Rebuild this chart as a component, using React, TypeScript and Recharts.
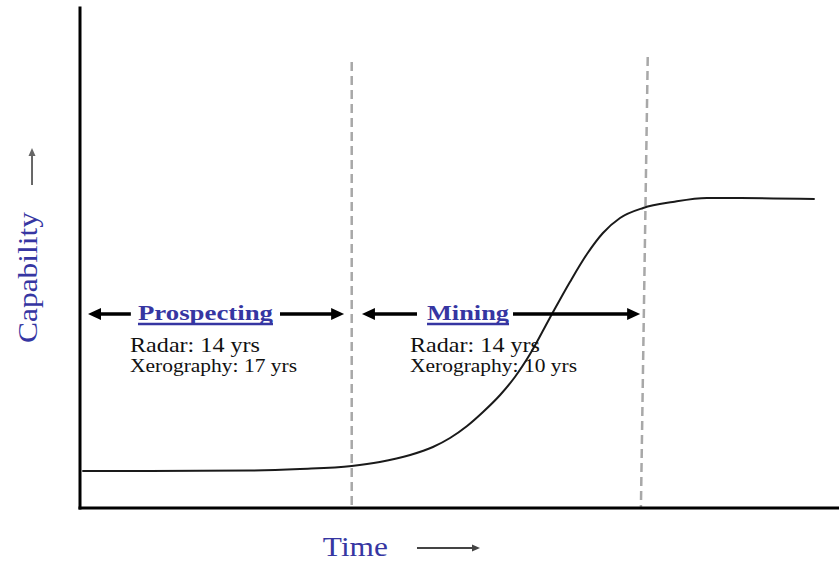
import React from "react";
import { LineChart, Line, XAxis, YAxis, ReferenceLine, ReferenceDot } from "recharts";

// S-curve: time (0-100) vs capability (0-100)
const times = [0.3, 9.2, 22.4, 29.0, 35.8, 39.5, 43.5, 46.5, 48.75, 51.0, 53.1, 55.35, 57.3, 59.3, 61.9, 64.55, 66.8, 68.9, 71.15, 74.2, 78.1, 82.6, 87.0, 96.8];
const capability = [7.4, 7.4, 7.5, 7.8, 8.4, 9.2, 10.6, 12.2, 14.0, 16.4, 19.2, 22.6, 26.2, 30.8, 38.0, 45.2, 50.8, 55.0, 58.0, 60.0, 61.2, 62.0, 62.0, 61.8];

// phase boundaries (dashed lines)
const boundaryTop = [{ x: 35.8, y: 89.2 }, { x: 74.8, y: 90.2 }];
const boundaryBottom = [{ x: 35.8, y: 0 }, { x: 73.9, y: 0 }];

// phase arrows (head at x2)
const arrowY = 38.8;
const arrows: { x1: number; x2: number; y1: number; y2: number }[] = [
  { x1: 6.7, x2: 1.05, y1: arrowY, y2: arrowY },
  { x1: 26.35, x2: 34.8, y1: arrowY, y2: arrowY },
  { x1: 44.4, x2: 37.15, y1: arrowY, y2: arrowY },
  { x1: 57.05, x2: 73.8, y1: arrowY, y2: arrowY },
];

const phaseLabels = ["Prospecting", "Mining"];
const phaseLabelX = [7.64, 45.72];
const phaseLabelLen = [135, 82];
const phaseLabelY = 37.6;

const radarLines = ["Radar: 14 yrs", "Radar: 14 yrs"];
const xeroLines = ["Xerography: 17 yrs", "Xerography: 10 yrs"];
const noteX = [6.59, 43.48];
const radarY = 31.2;
const xeroY = 27.2;

const data = times.map((t, i) => ({ t, c: capability[i] }));

const SERIF = '"Liberation Serif", "Times New Roman", serif';
const BLUE = "#3636a2";

function arrowShape(color: string, width: number, headLen: number, headHalf: number) {
  return (p: any) => {
    const { x1, y1, x2, y2 } = p;
    const dx = x2 - x1;
    const dy = y2 - y1;
    const len = Math.sqrt(dx * dx + dy * dy) || 1;
    const ux = dx / len;
    const uy = dy / len;
    const bx = x2 - ux * headLen;
    const by = y2 - uy * headLen;
    const px = -uy * headHalf;
    const py = ux * headHalf;
    return (
      <g>
        <line x1={x1} y1={y1} x2={bx + ux * 1} y2={by + uy * 1} stroke={color} strokeWidth={width} />
        <polygon points={`${x2},${y2} ${bx + px},${by + py} ${bx - px},${by - py}`} fill={color} />
      </g>
    );
  };
}

function plainLine(color: string, width: number) {
  return (p: any) => (
    <line x1={p.x1} y1={p.y1} x2={p.x2} y2={p.y2} stroke={color} strokeWidth={width} strokeLinecap="square" />
  );
}

function textShape(text: string, opts: any) {
  return (p: any) => (
    <text
      x={p.cx}
      y={p.cy}
      fontFamily={SERIF}
      fontSize={opts.size}
      fontWeight={opts.bold ? "bold" : "normal"}
      fill={opts.color}
      textLength={opts.len}
      lengthAdjust="spacingAndGlyphs"
      textAnchor={opts.anchor || "start"}
      transform={opts.rotate ? `rotate(-90 ${p.cx} ${p.cy})` : undefined}
    >
      {text}
    </text>
  );
}

function underlinedShape(text: string, len: number) {
  return (p: any) => (
    <g>
      <text
        x={p.cx}
        y={p.cy}
        fontFamily={SERIF}
        fontSize={22}
        fontWeight="bold"
        fill={BLUE}
        textLength={len}
        lengthAdjust="spacingAndGlyphs"
      >
        {text}
      </text>
      <line x1={p.cx} x2={p.cx + len} y1={p.cy + 4} y2={p.cy + 4} stroke={BLUE} strokeWidth={2.5} />
    </g>
  );
}

export default function App() {
  return (
    <div style={{ position: "absolute", left: 0, top: 0, width: 839, height: 563, background: "#fff" }}>
      <LineChart width={839} height={563} data={data} margin={{ top: 8, right: 0, bottom: 55, left: 80 }}>
        <XAxis dataKey="t" type="number" domain={[0, 100]} hide />
        <YAxis type="number" domain={[0, 100]} hide />
        {boundaryTop.map((b, i) => (
          <ReferenceLine
            key={"b" + i}
            segment={[b, boundaryBottom[i]]}
            stroke="#a8a8a8"
            strokeWidth={2.5}
            strokeDasharray="9 5"
            ifOverflow="visible"
          />
        ))}
        <Line
          type="monotone"
          dataKey="c"
          stroke="#1a1a1a"
          strokeWidth={2}
          dot={false}
          isAnimationActive={false}
        />
        {/* axis lines */}
        <ReferenceLine
          segment={[{ x: 0, y: 0 }, { x: 100, y: 0 }]}
          ifOverflow="visible"
          shape={plainLine("#000", 3)}
        />
        <ReferenceLine
          segment={[{ x: 0, y: 0 }, { x: 0, y: 100 }]}
          ifOverflow="visible"
          shape={plainLine("#000", 3)}
        />
        {arrows.map((a, i) => (
          <ReferenceLine
            key={"a" + i}
            segment={[{ x: a.x1, y: a.y1 }, { x: a.x2, y: a.y2 }]}
            ifOverflow="visible"
            shape={arrowShape("#000", 3.5, 13, 6)}
          />
        ))}
        {phaseLabels.map((l, i) => (
          <ReferenceDot
            key={"p" + i}
            x={phaseLabelX[i]}
            y={phaseLabelY}
            r={0}
            ifOverflow="visible"
            shape={underlinedShape(l, phaseLabelLen[i])}
          />
        ))}
        {radarLines.map((l, i) => (
          <ReferenceDot
            key={"r" + i}
            x={noteX[i]}
            y={radarY}
            r={0}
            ifOverflow="visible"
            shape={textShape(l, { size: 21, color: "#111", len: 130 })}
          />
        ))}
        {xeroLines.map((l, i) => (
          <ReferenceDot
            key={"x" + i}
            x={noteX[i]}
            y={xeroY}
            r={0}
            ifOverflow="visible"
            shape={textShape(l, { size: 19, color: "#111", len: 167 })}
          />
        ))}
        <ReferenceDot
          x={-5.67}
          y={46.1}
          r={0}
          ifOverflow="visible"
          shape={textShape("Capability", { size: 28, color: BLUE, len: 131, anchor: "middle", rotate: true })}
        />
        <ReferenceLine
          segment={[{ x: -6.32, y: 64.6 }, { x: -6.32, y: 72 }]}
          ifOverflow="visible"
          shape={arrowShape("#666", 2, 8, 3.5)}
        />
        <ReferenceDot
          x={32.0}
          y={-9.6}
          r={0}
          ifOverflow="visible"
          shape={textShape("Time", { size: 27, color: BLUE, len: 65 })}
        />
        <ReferenceLine
          segment={[{ x: 44.4, y: -8.0 }, { x: 52.7, y: -8.0 }]}
          ifOverflow="visible"
          shape={arrowShape("#444", 2, 8, 3.5)}
        />
      </LineChart>
    </div>
  );
}
